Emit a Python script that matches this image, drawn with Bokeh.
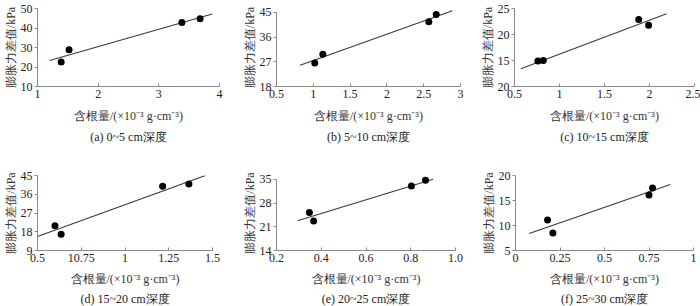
from bokeh.plotting import figure
from bokeh.layouts import column, row
from bokeh.models import FixedTicker, Title, Range1d
from bokeh.embed import file_html
from bokeh.resources import INLINE

# ---------------- data ----------------
a_x = [1.39, 1.52, 3.38, 3.68]
a_y = [22.6, 28.9, 42.8, 44.8]
a_line_x = [1.2, 3.88]
a_line_y = [23.3, 47.2]
a_xticks = [1, 2, 3, 4]
a_xlabels = ["1", "2", "3", "4"]
a_yticks = [10, 20, 30, 40, 50]
a_ylabels = ["10", "20", "30", "40", "50"]

b_x = [1.02, 1.13, 2.57, 2.67]
b_y = [26.6, 29.7, 41.6, 44.2]
b_line_x = [0.82, 2.89]
b_line_y = [25.7, 45.6]
b_xticks = [0.5, 1, 1.5, 2, 2.5, 3]
b_xlabels = ["0.5", "1", "1.5", "2", "2.5", "3"]
b_yticks = [18, 27, 36, 45]
b_ylabels = ["18", "27", "36", "45"]

c_x = [0.76, 0.82, 1.88, 1.99]
c_y = [14.9, 15.0, 22.9, 21.8]
c_line_x = [0.57, 2.19]
c_line_y = [13.4, 24.0]
c_xticks = [0.5, 1, 1.5, 2, 2.5]
c_xlabels = ["0.5", "1", "1.5", "2", "2.5"]
c_yticks = [10, 15, 20, 25]
c_ylabels = ["20", "15", "20", "25"]

d_x = [0.6, 0.635, 1.215, 1.365]
d_y = [20.9, 16.8, 39.8, 40.9]
d_line_x = [0.5, 1.46]
d_line_y = [15.7, 45.0]
d_xticks = [0.5, 0.75, 1, 1.25, 1.5]
d_xlabels = ["0.5", "10.75", "1", "1.25", "1.5"]
d_yticks = [9, 18, 27, 36, 45]
d_ylabels = ["9", "18", "27", "36", "45"]

e_x = [0.347, 0.366, 0.803, 0.866]
e_y = [25.2, 22.7, 33.0, 34.7]
e_line_x = [0.294, 0.9]
e_line_y = [22.8, 35.0]
e_xticks = [0.2, 0.4, 0.6, 0.8, 1.0]
e_xlabels = ["0.2", "0.4", "0.6", "0.8", "1.0"]
e_yticks = [14, 21, 28, 35]
e_ylabels = ["14", "21", "28", "35"]

f_x = [0.18, 0.21, 0.75, 0.77]
f_y = [11.1, 8.5, 16.1, 17.5]
f_line_x = [0.077, 0.87]
f_line_y = [8.4, 18.2]
f_xticks = [0, 0.25, 0.5, 0.75, 1]
f_xlabels = ["0", "0.25", "0.5", "0.75", "1"]
f_yticks = [5, 10, 15, 20]
f_ylabels = ["5", "10", "15", "20"]

captions = ["(a) 0~5 cm深度", "(b) 5~10 cm深度", "(c) 10~15 cm深度",
            "(d) 15~20 cm深度", "(e) 20~25 cm深度", "(f) 25~30 cm深度"]
x_title = "含根量/(×10⁻³ g·cm⁻³)"
y_title = "膨胀力差值/kPa"

# ---------------- styling ----------------
FONT = "Liberation Serif"
AXIS_COLOR = "#8a8a8a"
TEXT_COLOR = "#222222"
FS = "12px"


def make_panel(px, py, lx, ly, xt, xl, yt, yl, cap, width, height,
               left, right, top, bottom, pad_px, label_gap, cap_gap):
    frame_h = height - top - bottom
    span = yt[-1] - yt[0]
    y_end = yt[-1] + pad_px * span / max(frame_h - pad_px, 1)
    p = figure(width=width, height=height, output_backend="svg",
               toolbar_location=None,
               x_range=Range1d(xt[0], xt[-1]), y_range=Range1d(yt[0], y_end),
               min_border_left=left, min_border_right=right,
               min_border_top=top, min_border_bottom=bottom)
    p.outline_line_color = None
    p.grid.visible = False
    p.background_fill_color = "white"
    p.border_fill_color = "white"

    p.line(lx, ly, line_color="#3a3a3a", line_width=1.1)
    p.scatter(px, py, size=7, fill_color="black", line_color=None)

    xa = p.xaxis[0]
    xa.ticker = FixedTicker(ticks=xt)
    xa.major_label_overrides = {v: s for v, s in zip(xt, xl)}
    xa.major_tick_in = 3
    xa.major_tick_out = 0
    xa.minor_tick_line_color = None
    xa.axis_line_color = AXIS_COLOR
    xa.major_tick_line_color = AXIS_COLOR
    xa.major_label_text_font = FONT
    xa.major_label_text_font_size = FS
    xa.major_label_text_color = TEXT_COLOR
    xa.major_label_standoff = 3
    xa.axis_label = x_title
    xa.axis_label_text_font = FONT
    xa.axis_label_text_font_size = FS
    xa.axis_label_text_font_style = "normal"
    xa.axis_label_text_color = "#333333"
    xa.axis_label_standoff = label_gap

    ya = p.yaxis[0]
    ya.ticker = FixedTicker(ticks=yt)
    ya.bounds = (yt[0], yt[-1])
    ya.major_label_overrides = {v: s for v, s in zip(yt, yl)}
    ya.major_tick_in = 0
    ya.major_tick_out = 3
    ya.minor_tick_line_color = None
    ya.axis_line_color = AXIS_COLOR
    ya.major_tick_line_color = AXIS_COLOR
    ya.major_label_text_font = FONT
    ya.major_label_text_font_size = FS
    ya.major_label_text_color = TEXT_COLOR
    ya.major_label_standoff = 2
    ya.axis_label = y_title
    ya.axis_label_text_font = FONT
    ya.axis_label_text_font_size = FS
    ya.axis_label_text_font_style = "normal"
    ya.axis_label_text_color = "#333333"
    ya.axis_label_standoff = 0

    p.add_layout(Title(text=cap, align="center", text_font=FONT,
                       text_font_size=FS, text_font_style="normal",
                       text_color="#222222", standoff=cap_gap), "below")
    return p


H = 153

pa = make_panel(a_x, a_y, a_line_x, a_line_y, a_xticks, a_xlabels, a_yticks, a_ylabels,
                captions[0], 233, H, 33, 14, 4, 67, 0, 8, 4)
pb = make_panel(b_x, b_y, b_line_x, b_line_y, b_xticks, b_xlabels, b_yticks, b_ylabels,
                captions[1], 234, H, 43, 7, 5, 67, 4, 8, 4)
pc = make_panel(c_x, c_y, c_line_x, c_line_y, c_xticks, c_xlabels, c_yticks, c_ylabels,
                captions[2], 233, H, 47, 6, 8, 67, 0, 8, 4)
pd = make_panel(d_x, d_y, d_line_x, d_line_y, d_xticks, d_xlabels, d_yticks, d_ylabels,
                captions[3], 233, H, 35, 21, 22, 56, 0, 7, 2)
pe = make_panel(e_x, e_y, e_line_x, e_line_y, e_xticks, e_xlabels, e_yticks, e_ylabels,
                captions[4], 234, H, 43, 12, 18, 56, 4, 7, 2)
pf = make_panel(f_x, f_y, f_line_x, f_line_y, f_xticks, f_xlabels, f_yticks, f_ylabels,
                captions[5], 233, H, 48, 7, 14, 56, 0, 7, 2)

layout = column(row(pa, pb, pc, spacing=0), row(pd, pe, pf, spacing=0), spacing=0)

open("out.html", "w").write(file_html(layout, INLINE))
